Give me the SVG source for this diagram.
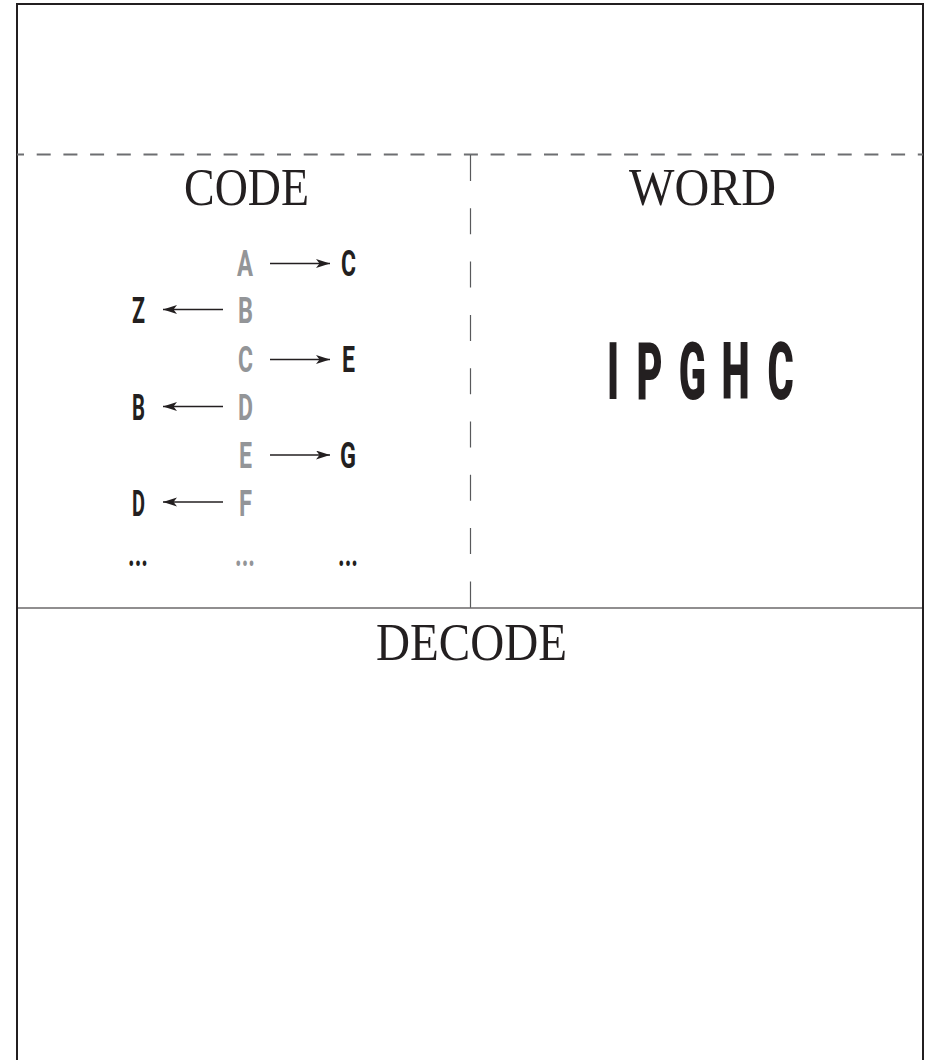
<svg xmlns="http://www.w3.org/2000/svg" width="929" height="1060" viewBox="0 0 929 1060">
<defs>
<marker id="ah" markerUnits="userSpaceOnUse" markerWidth="15" markerHeight="10" refX="14" refY="4.5" orient="auto">
<path d="M0,0 L14,4.5 L0,9 L3.5,4.5 z" fill="#231f20"/>
</marker>
<style>
.frame{fill:none;stroke:#231f20;stroke-width:2}
.hdash{stroke:#6d6e71;stroke-width:2;stroke-dasharray:14 12.7;stroke-dashoffset:7}
.vdash{stroke:#58595b;stroke-width:1.2;stroke-dasharray:26 27.3}
.solid{stroke:#231f20;stroke-width:1.2}
.title{font-family:"Liberation Serif","Times New Roman",serif;font-size:53px;fill:#231f20}
.blk{font-family:Roboto,"Liberation Sans",sans-serif;font-weight:700;font-size:36.5px;fill:#231f20}
.gry{font-family:Roboto,"Liberation Sans",sans-serif;font-weight:700;font-size:36.5px;fill:#939598}
.big{font-family:Roboto,"Liberation Sans",sans-serif;font-weight:900;font-size:80px;fill:#231f20;text-anchor:middle}
.arr{stroke:#231f20;stroke-width:1.3;fill:none;marker-end:url(#ah)}
</style>
</defs>
<rect width="929" height="1060" fill="#ffffff"/>
<g id="frame">
<path class="frame" d="M17,1060 V4 H923 V1060"/>
<line class="hdash" x1="17" y1="154.5" x2="923" y2="154.5"/>
<line class="vdash" x1="470.5" y1="155" x2="470.5" y2="608"/>
<line class="solid" x1="17" y1="608" x2="923" y2="608"/>
</g>
<g id="titles">
<text class="title" x="184" y="205" textLength="125" lengthAdjust="spacingAndGlyphs">CODE</text>
<text class="title" x="629" y="205" textLength="147" lengthAdjust="spacingAndGlyphs">WORD</text>
<text class="title" x="376" y="660" textLength="191" lengthAdjust="spacingAndGlyphs">DECODE</text>
</g>
<g id="plain">
<text class="gry" x="237" y="276" textLength="16" lengthAdjust="spacingAndGlyphs">A</text>
<text class="gry" x="238" y="323" textLength="15" lengthAdjust="spacingAndGlyphs">B</text>
<text class="gry" x="238" y="372" textLength="15" lengthAdjust="spacingAndGlyphs">C</text>
<text class="gry" x="238" y="420" textLength="15" lengthAdjust="spacingAndGlyphs">D</text>
<text class="gry" x="239" y="468" textLength="13" lengthAdjust="spacingAndGlyphs">E</text>
<text class="gry" x="239" y="516" textLength="13" lengthAdjust="spacingAndGlyphs">F</text>
<text class="gry" x="235" y="566" textLength="20" lengthAdjust="spacingAndGlyphs">...</text>
</g>
<g id="shifted">
<text class="blk" x="341" y="276" textLength="15" lengthAdjust="spacingAndGlyphs">C</text>
<text class="blk" x="132" y="323" textLength="13" lengthAdjust="spacingAndGlyphs">Z</text>
<text class="blk" x="342" y="372" textLength="13" lengthAdjust="spacingAndGlyphs">E</text>
<text class="blk" x="132" y="420" textLength="13" lengthAdjust="spacingAndGlyphs">B</text>
<text class="blk" x="340" y="468" textLength="16" lengthAdjust="spacingAndGlyphs">G</text>
<text class="blk" x="132" y="516" textLength="13" lengthAdjust="spacingAndGlyphs">D</text>
<text class="blk" x="128" y="566" textLength="20" lengthAdjust="spacingAndGlyphs">...</text>
<text class="blk" x="338" y="566" textLength="20" lengthAdjust="spacingAndGlyphs">...</text>
</g>
<g id="connectors">
<line class="arr" x1="270" y1="263.5" x2="330" y2="263.5"/>
<line class="arr" x1="223" y1="309.5" x2="163" y2="309.5"/>
<line class="arr" x1="270" y1="359.5" x2="330" y2="359.5"/>
<line class="arr" x1="223" y1="406.5" x2="163" y2="406.5"/>
<line class="arr" x1="270" y1="455" x2="330" y2="455"/>
<line class="arr" x1="223" y1="502" x2="163" y2="502"/>
</g>
<g id="word">
<text class="big" transform="translate(613,399) scale(0.5,1)">I</text>
<text class="big" transform="translate(649.5,399) scale(0.5,1)">P</text>
<text class="big" transform="translate(692.5,399) scale(0.5,1)">G</text>
<text class="big" transform="translate(735.5,399) scale(0.5,1)">H</text>
<text class="big" transform="translate(780.5,399) scale(0.5,1)">C</text>
</g>
</svg>
